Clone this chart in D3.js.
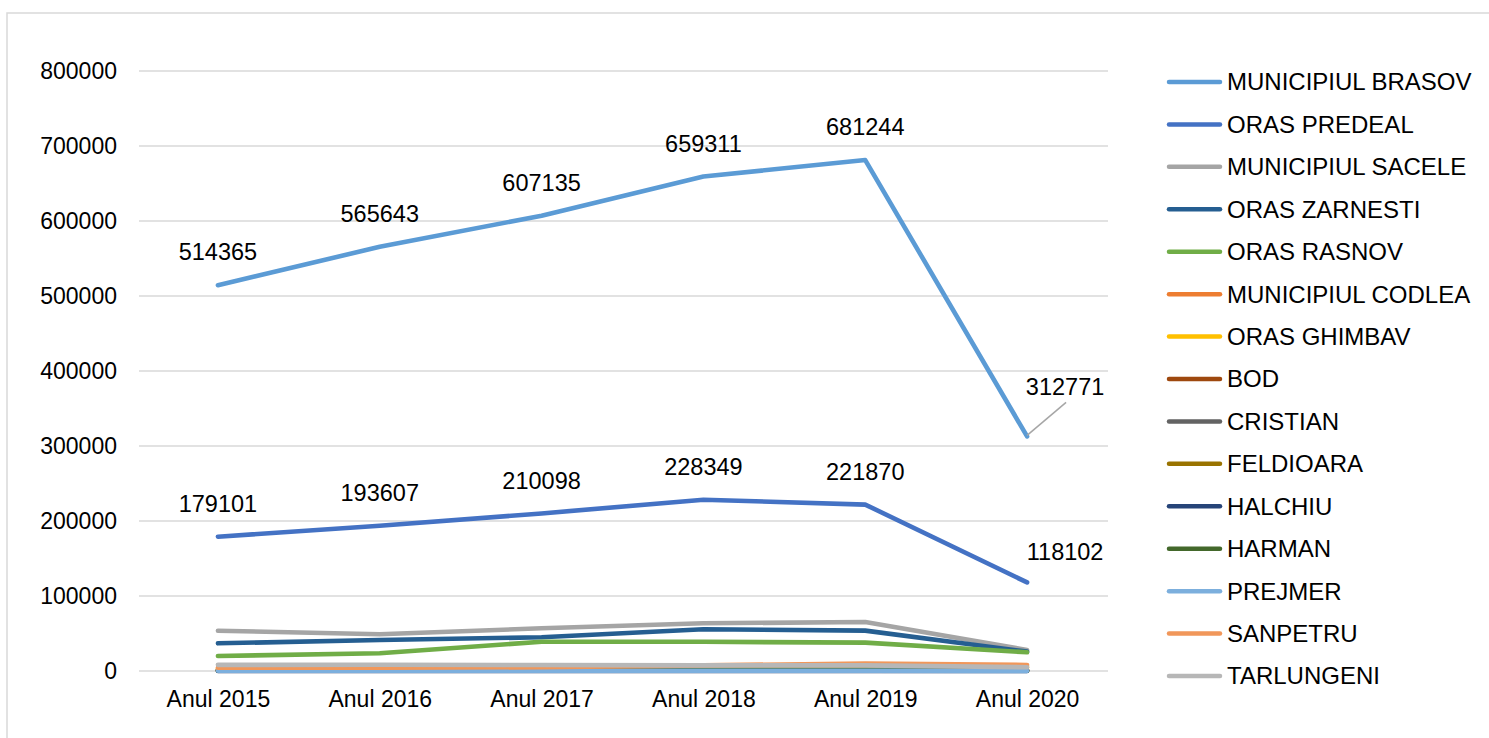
<!DOCTYPE html>
<html>
<head>
<meta charset="utf-8">
<script src="https://cdn.jsdelivr.net/npm/d3@7"></script>
<style>
  html, body { margin: 0; padding: 0; background: #fff; }
  svg { display: block; font-family: "Liberation Sans", Arial, sans-serif; }
</style>
</head>
<body>
<svg id="chart" width="1489" height="738"></svg>
<script>
// ---- Data ----
const categories = ["Anul 2015", "Anul 2016", "Anul 2017", "Anul 2018", "Anul 2019", "Anul 2020"];
const seriesNames = ["MUNICIPIUL BRASOV", "ORAS PREDEAL", "MUNICIPIUL SACELE", "ORAS ZARNESTI", "ORAS RASNOV",
  "MUNICIPIUL CODLEA", "ORAS GHIMBAV", "BOD", "CRISTIAN", "FELDIOARA", "HALCHIU", "HARMAN", "PREJMER", "SANPETRU", "TARLUNGENI"];
const brasov     = [514365, 565643, 607135, 659311, 681244, 312771];
const predeal    = [179101, 193607, 210098, 228349, 221870, 118102];
const sacele     = [53700, 48900, 57000, 63600, 65300, 28000];
const zarnesti   = [36900, 41300, 45000, 55600, 53800, 25800];
const rasnov     = [20000, 23600, 39100, 39000, 37800, 25000];
const codlea     = [1500, 1500, 1600, 1800, 2000, 1200];
const ghimbav    = [3000, 3000, 3000, 3500, 5000, 5000];
const bod        = [800, 800, 900, 900, 1000, 600];
const cristian   = [1200, 1300, 1400, 1500, 1500, 900];
const feldioara  = [300, 300, 300, 400, 400, 300];
const halchiu    = [100, 100, 100, 100, 100, 100];
const harman     = [600, 700, 700, 800, 800, 500];
const prejmer    = [300, 300, 300, 300, 300, 200];
const sanpetru   = [4500, 4500, 5000, 7500, 10000, 8000];
const tarlungeni = [8200, 8300, 8000, 7500, 7500, 5000];
const seriesValues = [brasov, predeal, sacele, zarnesti, rasnov, codlea, ghimbav, bod, cristian,
  feldioara, halchiu, harman, prejmer, sanpetru, tarlungeni];
const yTicks = [0, 100000, 200000, 300000, 400000, 500000, 600000, 700000, 800000];
const labeledSeries = ["MUNICIPIUL BRASOV", "ORAS PREDEAL"];

// ---- Styles ----
const colors = ["#5B9BD5", "#4472C4", "#A5A5A5", "#255E91", "#70AD47", "#ED7D31", "#FFC000", "#9E480E",
  "#636363", "#997300", "#264478", "#43682B", "#7CAFDD", "#F1975A", "#B7B7B7"];

const svg = d3.select("#chart");
const W = 1489, H = 738;
const plot = { left: 137, right: 1108, top: 71, bottom: 671 };

// chart frame
svg.append("rect").attr("x", 7).attr("y", 13).attr("width", W + 10).attr("height", H + 10)
  .attr("fill", "#fff").attr("stroke", "#d9d9d9").attr("stroke-width", 1.5);

const x = d3.scalePoint().domain(categories).range([plot.left, plot.right]).padding(0.5);
const y = d3.scaleLinear().domain([0, 800000]).range([plot.bottom, plot.top]);

// gridlines
svg.append("g").selectAll("line").data(yTicks).join("line")
  .attr("x1", plot.left + 2).attr("x2", plot.right)
  .attr("y1", d => y(d)).attr("y2", d => y(d))
  .attr("stroke", "#d9d9d9").attr("stroke-width", 1.5);

// y axis
const yAxis = svg.append("g").attr("transform", `translate(${plot.left - 20},0)`)
  .call(d3.axisLeft(y).tickValues(yTicks).tickFormat(d3.format("d")).tickSize(0).tickPadding(0));
yAxis.select(".domain").remove();
yAxis.selectAll("text").attr("font-size", 23).attr("fill", "#000").attr("font-family", "Liberation Sans, Arial, sans-serif");

// x axis
const xAxis = svg.append("g").attr("transform", `translate(0,${plot.bottom})`)
  .call(d3.axisBottom(x).tickSize(0).tickPadding(20));
xAxis.select(".domain").remove();
xAxis.selectAll("text").attr("font-size", 23).attr("fill", "#000").attr("font-family", "Liberation Sans, Arial, sans-serif");

// lines
const line = d3.line().x((d, i) => x(categories[i])).y(d => y(d));
const seriesData = seriesNames.map((n, i) => ({ name: n, values: seriesValues[i], color: colors[i] }));
svg.append("g").selectAll("path").data(seriesData).join("path")
  .attr("d", d => line(d.values))
  .attr("fill", "none").attr("stroke", d => d.color).attr("stroke-width", 4.6)
  .attr("stroke-linejoin", "round").attr("stroke-linecap", "round");

// data labels
const lblG = svg.append("g");
seriesData.filter(s => labeledSeries.includes(s.name)).forEach((s, si) => {
  s.values.forEach((v, i) => {
    const px = x(categories[i]), py = y(v);
    let lx = px, ly = py - 33;
    const last = i === s.values.length - 1;
    if (last) {
      lx = px + 38;
      ly = si === 0 ? py - 50 : py - 31;
      if (si === 0) {
        lblG.append("line").attr("x1", px).attr("y1", py - 1).attr("x2", px + 39).attr("y2", py - 34)
          .attr("stroke", "#a6a6a6").attr("stroke-width", 1.5);
      }
    }
    lblG.append("text").attr("x", lx).attr("y", ly).attr("dy", "0.35em")
      .attr("text-anchor", "middle").attr("font-size", 23.5).attr("fill", "#000")
      .text(d3.format("d")(v));
  });
});

// legend
const leg = svg.append("g").attr("transform", "translate(1167,82)");
const rowH = 42.43;
const items = leg.selectAll("g").data(seriesData).join("g")
  .attr("transform", (d, i) => `translate(0,${i * rowH})`);
items.append("line").attr("x1", 2).attr("x2", 53).attr("y1", 0).attr("y2", 0)
  .attr("stroke", d => d.color).attr("stroke-width", 4.5).attr("stroke-linecap", "round");
items.append("text").attr("x", 60).attr("y", 0).attr("dy", "0.35em")
  .attr("font-size", 24).attr("fill", "#000").text(d => d.name);
</script>
</body>
</html>
